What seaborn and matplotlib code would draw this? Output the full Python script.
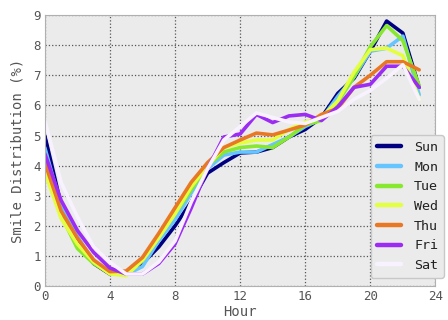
import pandas as pd
import matplotlib
matplotlib.use('Agg')
import matplotlib.pyplot as plt
import seaborn as sns

# hourly smile distribution (%) per weekday
hours = list(range(24))
sun = [5.0, 2.7, 1.6, 0.75, 0.4, 0.4, 0.75, 1.3, 2.0, 2.8, 3.75, 4.1, 4.42, 4.45, 4.6, 4.95, 5.2, 5.6, 6.4, 6.9, 7.8, 8.8, 8.4, 6.6]
mon = [4.6, 2.65, 1.65, 0.8, 0.45, 0.38, 0.65, 1.5, 2.2, 3.1, 3.9, 4.35, 4.45, 4.45, 4.7, 4.95, 5.3, 5.55, 6.3, 6.95, 7.8, 7.9, 8.3, 6.35]
tue = [3.9, 2.35, 1.25, 0.75, 0.42, 0.38, 0.9, 1.65, 2.4, 3.2, 4.0, 4.45, 4.6, 4.65, 4.6, 4.95, 5.35, 5.5, 6.1, 6.95, 7.95, 8.65, 8.15, 6.65]
wed = [3.8, 2.25, 1.4, 0.8, 0.4, 0.35, 0.85, 1.6, 2.4, 3.3, 4.0, 4.6, 4.75, 4.85, 4.85, 5.2, 5.45, 5.6, 6.15, 7.1, 7.85, 7.9, 7.65, 6.2]
thu = [4.1, 2.5, 1.6, 0.87, 0.48, 0.5, 0.95, 1.75, 2.6, 3.45, 4.1, 4.6, 4.85, 5.08, 5.02, 5.18, 5.35, 5.7, 5.9, 6.6, 7.0, 7.45, 7.45, 7.18]
fri = [4.4, 2.85, 1.85, 1.12, 0.6, 0.4, 0.4, 0.75, 1.4, 2.6, 3.9, 4.95, 5.05, 5.7, 5.43, 5.65, 5.7, 5.5, 5.95, 6.6, 6.7, 7.3, 7.3, 6.6]
sat = [5.5, 3.45, 2.3, 1.3, 0.8, 0.4, 0.4, 0.8, 1.5, 2.8, 3.9, 4.85, 5.3, 5.75, 5.6, 5.45, 5.4, 5.6, 5.8, 6.2, 6.5, 6.9, 7.35, 6.2]

days = ['Sun', 'Mon', 'Tue', 'Wed', 'Thu', 'Fri', 'Sat']
series = [sun, mon, tue, wed, thu, fri, sat]
colors = ['#000080', '#66c4ff', '#88e830', '#e4ff40', '#e87824', '#9c2cf4', '#f8f2ff']

df = pd.DataFrame([(d, h, v) for d, vals in zip(days, series) for h, v in zip(hours, vals)],
                  columns=['Day', 'Hour', 'Smile'])

sns.set_style('darkgrid', {'axes.facecolor': '#ebebeb', 'grid.color': '#555555',
                           'grid.linestyle': ':', 'axes.edgecolor': '#b0b0b0'})
plt.rcParams['font.family'] = ['DejaVu Sans Mono']

fig = plt.figure(figsize=(4.48, 3.2), dpi=100)
ax = fig.add_axes([0.1, 0.106, 0.872, 0.847])
sns.lineplot(data=df, x='Hour', y='Smile', hue='Day', hue_order=days,
             palette=dict(zip(days, colors)), linewidth=2.6, ax=ax)

ax.set_xlim(0, 24)
ax.set_ylim(0, 9)
ax.set_xticks(range(0, 25, 4))
ax.set_yticks(range(0, 10))
ax.grid(True, linestyle=':', color='#555555', linewidth=0.9)
for s in ax.spines.values():
    s.set_visible(True)
    s.set_color('#b0b0b0')
ax.tick_params(labelsize=9, colors='#555555', length=0, pad=3)
ax.set_xlabel('Hour', fontsize=10, color='#555555', labelpad=1)
ax.set_ylabel('Smile Distribution (%)', fontsize=10, color='#555555', labelpad=6)
leg = ax.legend(loc='lower right', bbox_to_anchor=(1.022, 0.03), fontsize=9.6, frameon=True,
                handlelength=1.8, handletextpad=1.0, borderpad=0.45, labelspacing=0.5,
                borderaxespad=0, facecolor='#ebebeb', edgecolor='#c8c8c8')
leg.get_frame().set_alpha(1)
for line in leg.get_lines():
    line.set_linewidth(3.2)
for t in leg.get_texts():
    t.set_color('#222222')

fig.savefig('out.png', dpi=100)
